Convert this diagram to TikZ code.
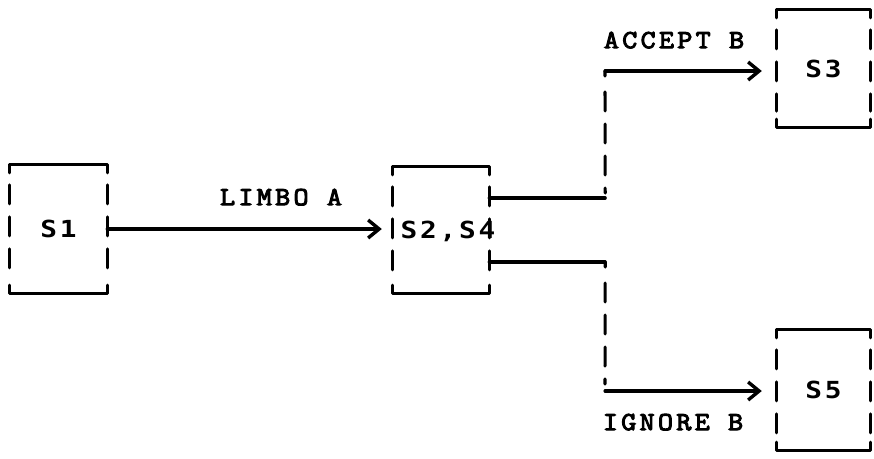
\documentclass[tikz,border=0pt]{standalone}
\usepackage{fontspec}
\newfontfamily\lblfont[LetterSpace=13,FakeStretch=1.12,FakeBold=4]{Latin Modern Mono}
\newfontfamily\sfont[LetterSpace=12,FakeStretch=1.18]{DejaVu Sans Mono Bold}
\usetikzlibrary{arrows.meta,calc}
\tikzset{
  tbox/.style={rectangle, inner sep=0pt, text depth=0pt, font=\sfont\fontsize{23.5}{23.5}\selectfont},
  slbl/.style={inner sep=0pt, text depth=0pt, font=\sfont\fontsize{23.5}{23.5}\selectfont},
  lbl/.style={inner sep=0pt, text depth=0pt, font=\lblfont\fontsize{26}{26}\selectfont},
  ink/.style={line width=3.1pt, black, line cap=round, line join=round},
  vdash/.style={ink, dash pattern=on 19pt off 13pt},
  cvdash/.style={ink, dash pattern=on 5pt off 16pt on 19pt off 13pt on 19pt off 13pt on 19pt off 13pt},
  tip/.style={-{Straight Barb[length=11pt,width=18pt,line width=3.4pt]}},
}
\newcommand\drawtbox[1]{%
  \draw[ink] ($(#1.north west)+(0,8)$) -- (#1.north west) -- (#1.north east) -- ($(#1.north east)+(0,8)$);
  \draw[ink] ($(#1.south west)+(0,-8)$) -- (#1.south west) -- (#1.south east) -- ($(#1.south east)+(0,-8)$);
  \draw[vdash] ($(#1.north west)+(0,20)$) -- ($(#1.south west)+(0,-16)$);
  \draw[vdash] ($(#1.north east)+(0,20)$) -- ($(#1.south east)+(0,-16)$);
}
\begin{document}
\begin{tikzpicture}[x=1pt,y=-1pt]
\useasboundingbox[fill=white] (0,0) rectangle (874,458);
% boxes
\node[tbox, minimum width=97pt, minimum height=128pt] (s1) at (58.5,229) {S1};
\node[tbox, minimum width=96pt, minimum height=126pt] (s2) at (441,230) {};
\node[slbl] (t2) at (448,230) {S2,S4};
\node[tbox, minimum width=93pt, minimum height=117pt] (s3) at (823.5,68.5) {S3};
\node[tbox, minimum width=93pt, minimum height=120pt] (s5) at (823.5,390) {S5};
\drawtbox{s1}
\drawtbox{s2}
\drawtbox{s3}
\drawtbox{s5}
% labels
\node[lbl] (la) at (281,197) {LIMBO A};
\node[lbl] (lb) at (674,40) {ACCEPT B};
\node[lbl] (lc) at (673,422) {IGNORE B};
% connector S1 -> S2
\draw[ink, tip, shorten >=11pt] (s1.east) -- (s1.east -| s2.west);
% connector S2 -> S3
\coordinate (a1) at ($(s2.east)+(0,-32)$);
\coordinate (k1) at ($(a1)+(116,0)$);
\coordinate (k2) at (605,71);
\draw[ink] (a1) -- (k1);
\draw[cvdash] (k2) -- (k1);
\draw[ink, tip, shorten >=15pt] (k2) -- (k2 -| s3.west);
% connector S2 -> S5
\coordinate (b1) at ($(s2.east)+(0,32)$);
\coordinate (k3) at ($(b1)+(116,0)$);
\coordinate (k4) at (605,391);
\draw[ink] (b1) -- (k3);
\draw[cvdash] (k3) -- (k4);
\draw[ink, tip, shorten >=15pt] (k4) -- (k4 -| s5.west);
\end{tikzpicture}
\end{document}
